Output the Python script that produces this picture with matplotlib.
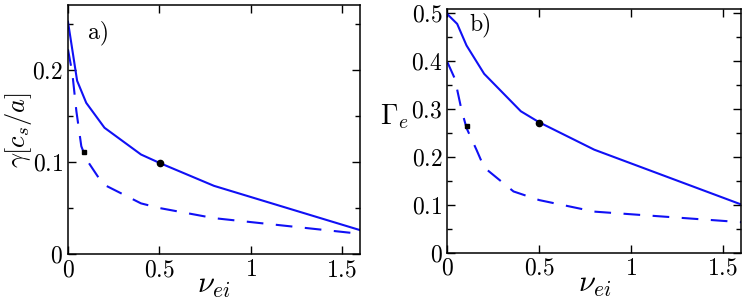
import matplotlib
matplotlib.use("Agg")
import matplotlib.pyplot as plt
from matplotlib.ticker import MultipleLocator, FuncFormatter, NullLocator

plt.rcParams['mathtext.fontset'] = 'cm'
plt.rcParams['font.family'] = 'serif'
plt.rcParams['font.serif'] = ['cmr10', 'DejaVu Serif']
plt.rcParams['axes.formatter.use_mathtext'] = True

# panel a) growth rate
nu_a_solid = [0, 0.05, 0.1, 0.2, 0.4, 0.5, 0.8, 1.6]
gam_solid = [0.252, 0.188, 0.164, 0.137, 0.108, 0.099, 0.074, 0.026]
nu_a_dash = [0, 0.024, 0.046, 0.073, 0.1, 0.174, 0.2, 0.4, 0.5, 0.8, 1.6]
gam_dash = [0.222, 0.196, 0.155, 0.117, 0.103, 0.081, 0.075, 0.055, 0.05, 0.039, 0.022]
pt_a_sq = (0.088, 0.111)
pt_a_circ = (0.505, 0.099)

# panel b) flux
nu_b_solid = [0, 0.053, 0.104, 0.2, 0.4, 0.5, 0.8, 1.6]
flux_solid = [0.497, 0.477, 0.432, 0.373, 0.295, 0.272, 0.215, 0.101]
nu_b_dash = [0, 0.04, 0.076, 0.104, 0.158, 0.2, 0.36, 0.5, 0.8, 1.6]
flux_dash = [0.397, 0.363, 0.299, 0.26, 0.215, 0.178, 0.128, 0.11, 0.086, 0.064]
pt_b_sq = (0.107, 0.265)
pt_b_circ = (0.5, 0.271)

blue = '#1010f5'


def fmt(v, pos):
    s = ('%.2f' % v).rstrip('0').rstrip('.')
    return '$%s$' % s


def style(ax, ytop, ymaj):
    ax.set_xlim(0, 1.6)
    ax.set_ylim(0, ytop)
    ax.xaxis.set_major_locator(MultipleLocator(0.5))
    ax.xaxis.set_minor_locator(NullLocator())
    ax.yaxis.set_major_locator(MultipleLocator(ymaj))
    ax.yaxis.set_minor_locator(MultipleLocator(ymaj / 2))
    ax.xaxis.set_major_formatter(FuncFormatter(fmt))
    ax.yaxis.set_major_formatter(FuncFormatter(fmt))
    ax.tick_params(which='both', direction='in', top=True, right=True, labelsize=17)
    ax.tick_params(which='major', length=6, width=1)
    ax.tick_params(which='minor', length=3.5, width=1)
    for s in ax.spines.values():
        s.set_linewidth(1.1)
    ax.set_xlabel(r'$\nu_{ei}$', fontsize=22, labelpad=-6)


fig = plt.figure(figsize=(7.47, 3.0), dpi=100)
ax1 = fig.add_axes([0.091, 0.153, 0.391, 0.830])
ax2 = fig.add_axes([0.599, 0.157, 0.393, 0.813])

ax1.plot(nu_a_solid, gam_solid, color=blue, lw=1.5)
ax1.plot(nu_a_dash, gam_dash, color=blue, lw=1.5, dashes=(8, 6))
ax1.plot(*pt_a_sq, 's', color='black', ms=3.5)
ax1.plot(*pt_a_circ, 'o', color='black', ms=4.5)
style(ax1, 0.27, 0.1)
ax1.set_ylabel(r'$\gamma[c_s/a]$', fontsize=19, labelpad=-1)
ax1.text(0.11, 0.24, 'a)', fontsize=17, va='center')

ax2.plot(nu_b_solid, flux_solid, color=blue, lw=1.5)
ax2.plot(nu_b_dash, flux_dash, color=blue, lw=1.5, dashes=(8, 6))
ax2.plot(*pt_b_sq, 's', color='black', ms=3.5)
ax2.plot(*pt_b_circ, 'o', color='black', ms=4.5)
style(ax2, 0.508, 0.1)
ax2.set_ylabel(r'$\Gamma_e$', fontsize=20, rotation=0, labelpad=12)
ax2.text(0.12, 0.475, 'b)', fontsize=17, va='center')

fig.savefig('out.png', dpi=100)
